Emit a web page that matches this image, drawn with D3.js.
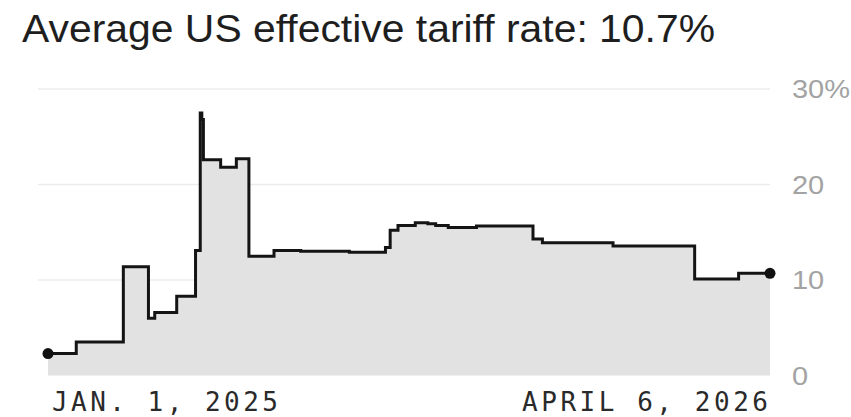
<!DOCTYPE html>
<html>
<head>
<meta charset="utf-8">
<script src="https://cdn.jsdelivr.net/npm/d3@7"></script>
<style>
  html, body { margin: 0; padding: 0; background: #fff; }
  svg { display: block; }
</style>
</head>
<body>
<svg id="chart" width="851" height="417"></svg>
<script>
// Step dates where the average effective tariff rate changes (%)
const dates = [
  "2025-01-01", "2025-01-19", "2025-02-18", "2025-03-06", "2025-03-10",
  "2025-03-24", "2025-04-05", "2025-04-08", "2025-04-09", "2025-04-10",
  "2025-04-21", "2025-05-01", "2025-05-09", "2025-05-25", "2025-06-11",
  "2025-07-12", "2025-08-04", "2025-08-07", "2025-08-12", "2025-08-23",
  "2025-08-31", "2025-09-05", "2025-09-13", "2025-10-01", "2025-11-06",
  "2025-11-12", "2025-12-27", "2026-02-17", "2026-03-17", "2026-04-06"
];
const rates = [
  2.3, 3.5, 11.4, 6.0, 6.6,
  8.3, 13.1, 27.5, 26.8, 22.6,
  21.8, 22.7, 12.5, 13.1, 13.0,
  12.9, 13.4, 15.2, 15.7, 16.0,
  15.9, 15.7, 15.5, 15.65, 14.3,
  13.9, 13.55, 10.1, 10.7, 10.7
];
const yTicks = [0, 10, 20, 30];
const yTickLabels = ["0", "10", "20", "30%"];
const title = "Average US effective tariff rate: 10.7%";
const xLabels = ["JAN. 1, 2025", "APRIL 6, 2026"];

const parse = d3.timeParse("%Y-%m-%d");
const series = dates.map((d, i) => ({ date: parse(d), value: rates[i] }));

const svg = d3.select("#chart");

const x = d3.scaleTime()
  .domain([series[0].date, series[series.length - 1].date])
  .range([48, 770]);
const y = d3.scaleLinear().domain([0, 30]).range([375.5, 89]);

// Title
svg.append("text")
  .attr("x", 22).attr("y", 42)
  .attr("textLength", 693)
  .attr("lengthAdjust", "spacingAndGlyphs")
  .style("font-family", "'Liberation Sans', Arial, sans-serif")
  .style("font-size", "38px")
  .style("fill", "#1e1e1e")
  .text(title);

// Horizontal gridlines
svg.append("g").selectAll("line")
  .data(yTicks.filter(v => v > 0))
  .join("line")
  .attr("x1", 38).attr("x2", 770)
  .attr("y1", d => y(d)).attr("y2", d => y(d))
  .attr("stroke", "#ececec").attr("stroke-width", 1.5);

// Shaded area under the step line
const area = d3.area()
  .curve(d3.curveStepAfter)
  .x(d => x(d.date))
  .y0(y(0))
  .y1(d => y(d.value));
svg.append("path")
  .datum(series)
  .attr("d", area)
  .attr("fill", "#e2e2e2");

// Step line
const line = d3.line()
  .curve(d3.curveStepAfter)
  .x(d => x(d.date))
  .y(d => y(d.value));
svg.append("path")
  .datum(series)
  .attr("d", line)
  .attr("fill", "none")
  .attr("stroke", "#141414")
  .attr("stroke-width", 3)
  .attr("stroke-linejoin", "miter");

// End-point markers
svg.append("g").selectAll("circle")
  .data([series[0], series[series.length - 1]])
  .join("circle")
  .attr("cx", d => x(d.date))
  .attr("cy", d => y(d.value))
  .attr("r", 5.5)
  .attr("fill", "#111");

// Y-axis labels on the right
svg.append("g").selectAll("text")
  .data(yTicks)
  .join("text")
  .attr("transform", d => `translate(792,${y(d) + 9}) scale(1.16,1)`)
  .style("font-family", "'Liberation Sans', Arial, sans-serif")
  .style("font-size", "25px")
  .style("fill", "#a3a3a3")
  .text((d, i) => yTickLabels[i]);

// Date labels at both ends of the x-axis
const xEnds = [series[0].date, series[series.length - 1].date];
svg.append("g").selectAll("text")
  .data(xEnds)
  .join("text")
  .attr("x", (d, i) => i === 0 ? x(d) + 4 : x(d) - 248)
  .attr("y", 411)
  .attr("textLength", (d, i) => i === 0 ? 226 : 246)
  .attr("lengthAdjust", "spacing")
  .style("font-family", "'DejaVu Sans Mono', 'Liberation Mono', monospace")
  .style("font-size", "26px")
  .style("fill", "#2a2a2a")
  .text((d, i) => xLabels[i]);
</script>
</body>
</html>
